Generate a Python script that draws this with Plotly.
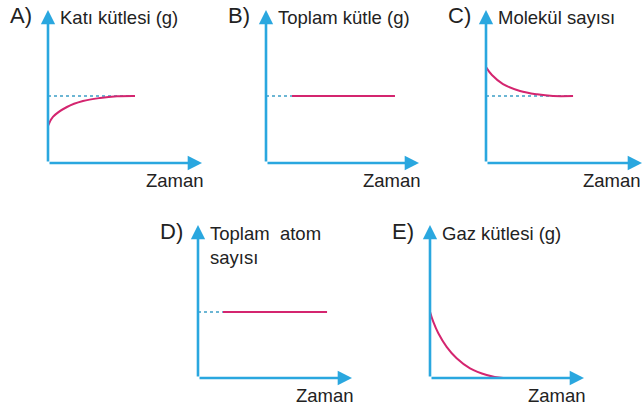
import plotly.graph_objects as go

# --------------------------------------------------------------------------------
# five small sketch graphs (A-E), time on x, quantity on y, axis length = 10 units
# --------------------------------------------------------------------------------

# A) Katı kütlesi (g) - rises and levels off
a_t = [0, 0.32, 1.23, 2.27, 3.38, 4.48, 5.65]
a_y = [2.42, 3.01, 3.66, 4.05, 4.25, 4.36, 4.38]
a_ref_t = [0, 5.65]
a_ref_y = [4.38, 4.38]

# B) Toplam kütle (g) - constant
b_t = [1.7, 8.43]
b_y = [4.38, 4.38]
b_ref_t = [0, 1.7]
b_ref_y = [4.38, 4.38]

# C) Molekül sayısı - falls and levels off
c_t = [0, 0.38, 1.09, 2.18, 3.27, 4.29, 5.58]
c_y = [6.27, 5.75, 5.16, 4.71, 4.49, 4.38, 4.38]
c_ref_t = [0, 5.58]
c_ref_y = [4.38, 4.38]

# D) Toplam atom sayısı - constant
d_t = [1.62, 8.38]
d_y = [4.31, 4.31]
d_ref_t = [0, 1.62]
d_ref_y = [4.31, 4.31]

# E) Gaz kütlesi (g) - falls to zero
e_t = [0, 0.21, 0.54, 1.08, 1.73, 2.60, 3.68, 4.76, 5.63]
e_y = [4.33, 3.68, 2.92, 2.04, 1.29, 0.63, 0.20, 0, 0]

letters = ["A)", "B)", "C)", "D)", "E)"]
y_titles = ["Katı kütlesi (g)", "Toplam kütle (g)", "Molekül sayısı",
            "Toplam  atom<br>sayısı", "Gaz kütlesi (g)"]
x_title = "Zaman"

W, H = 643, 408
AXIS_COL = "#2aa7df"
CURVE_COL = "#d4256f"
DOT_COL = "#3d9fc6"
FONT = "Liberation Sans, Arial, sans-serif"


def fx(p):
    return p / W


def fy(p):
    return 1 - p / H


# panel origin (px), arrow lengths (px)
panels = [
    dict(x0=48, y0=163, w=154, h=153),
    dict(x0=266, y0=163, w=153, h=153),
    dict(x0=486, y0=163, w=156, h=153),
    dict(x0=198, y0=378, w=154, h=153),
    dict(x0=430, y0=378, w=154, h=153),
]

fig = go.Figure()

curves = [(a_t, a_y), (b_t, b_y), (c_t, c_y), (d_t, d_y), (e_t, e_y)]
refs = [(a_ref_t, a_ref_y), (b_ref_t, b_ref_y), (c_ref_t, c_ref_y), (d_ref_t, d_ref_y), None]

layout = {}
annotations = []
for i, p in enumerate(panels):
    n = "" if i == 0 else str(i + 1)
    xa, ya = "x" + n, "y" + n
    layout["xaxis" + n] = dict(domain=[fx(p["x0"]), fx(p["x0"] + p["w"])], range=[0, 10],
                               anchor=ya, visible=False, fixedrange=True)
    layout["yaxis" + n] = dict(domain=[fy(p["y0"]), fy(p["y0"] - p["h"])], range=[0, 10],
                               anchor=xa, visible=False, fixedrange=True)

    if refs[i] is not None:
        fig.add_trace(go.Scatter(x=refs[i][0], y=refs[i][1], xaxis=xa, yaxis=ya, mode="lines",
                                 line=dict(color=DOT_COL, width=1.5, dash="dot"),
                                 cliponaxis=False, hoverinfo="skip"))
    fig.add_trace(go.Scatter(x=curves[i][0], y=curves[i][1], xaxis=xa, yaxis=ya, mode="lines",
                             line=dict(color=CURVE_COL, width=2, shape="spline"),
                             cliponaxis=False, hoverinfo="skip"))

    # axes with arrow heads
    for hx, hy in [(10, 0), (0, 10)]:
        annotations.append(dict(x=hx, y=hy, xref=xa, yref=ya, ax=0, ay=0, axref=xa, ayref=ya,
                                text="", showarrow=True, arrowhead=2, arrowsize=1.1,
                                arrowwidth=2.6, arrowcolor=AXIS_COL, standoff=0))

    top = p["y0"] - p["h"]
    two_lines = "<br>" in y_titles[i]
    annotations.append(dict(x=fx(p["x0"] - 40), y=fy(top + 6), xref="paper", yref="paper",
                            text=letters[i], showarrow=False, xanchor="left", yanchor="middle",
                            font=dict(family=FONT, size=22, color="#222222")))
    annotations.append(dict(x=fx(p["x0"] + 10), y=fy(top - 4 if two_lines else top + 8),
                            xref="paper", yref="paper",
                            text=y_titles[i], showarrow=False, xanchor="left",
                            yanchor="top" if two_lines else "middle",
                            align="left",
                            font=dict(family=FONT, size=18.5, color="#222222")))
    annotations.append(dict(x=min(1, fx(p["x0"] + p["w"] + 4)), y=fy(p["y0"] + 17),
                            xref="paper", yref="paper",
                            text=x_title, showarrow=False, xanchor="right", yanchor="middle",
                            font=dict(family=FONT, size=18.5, color="#222222")))

fig.update_layout(**layout)
fig.update_layout(
    annotations=annotations,
    width=W, height=H,
    margin=dict(l=0, r=0, t=0, b=0),
    paper_bgcolor="white",
    plot_bgcolor="white",
    showlegend=False)

# drop the default page margin so the figure fills the window
fig.write_html("out.html", config={"displayModeBar": False},
               post_script="document.body.style.margin='0';")
